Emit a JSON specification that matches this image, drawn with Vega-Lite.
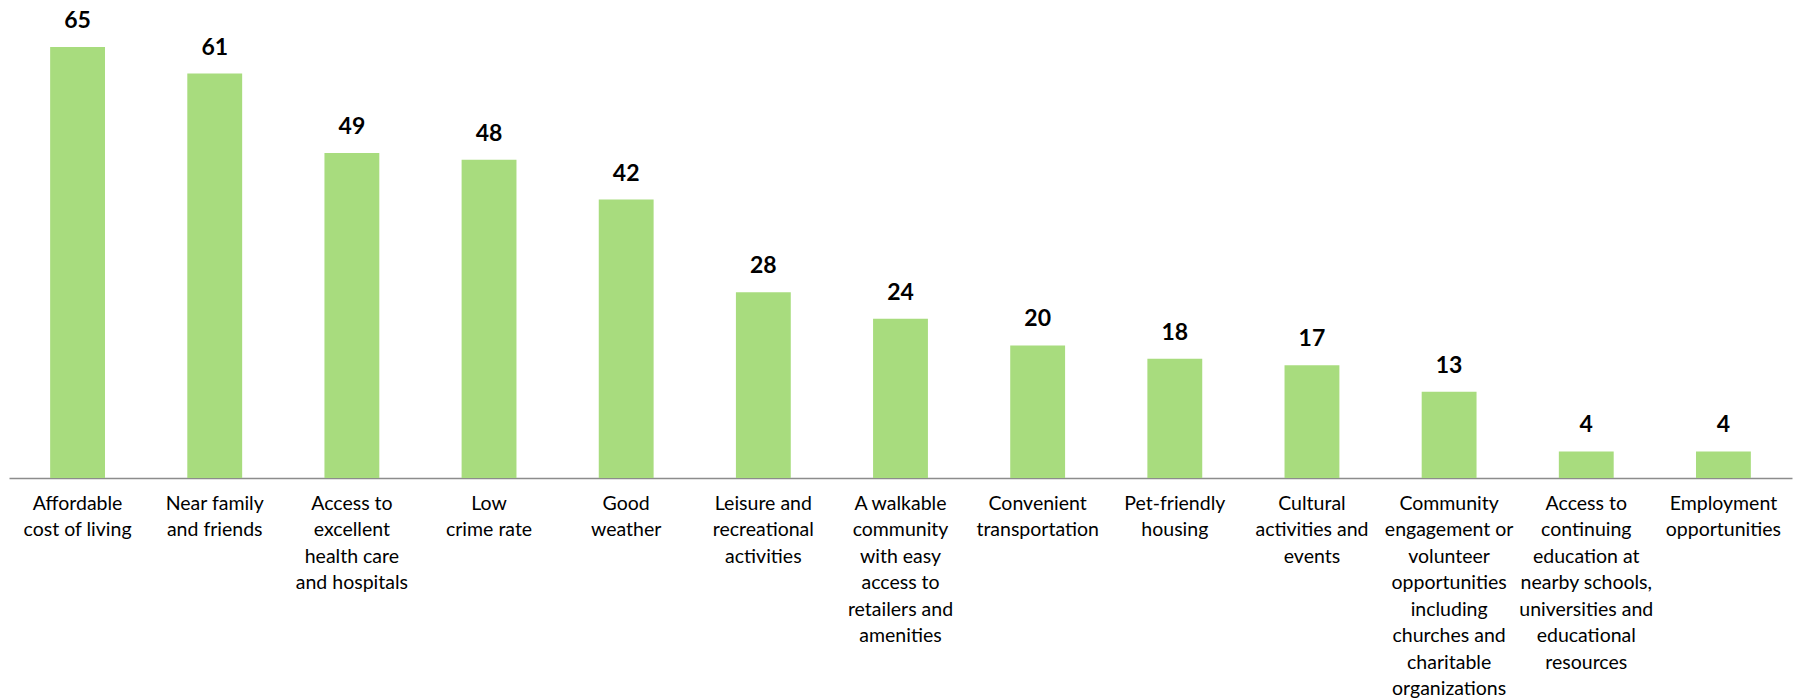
{
  "$schema": "https://vega.github.io/schema/vega-lite/v6.json",
  "autosize": {"type": "none"},
  "padding": {"left": 9, "top": 47, "right": 2, "bottom": 220},
  "width": 1783,
  "height": 431,
  "background": "white",
  "data": {"values": [
    {"reason": "Affordable|cost of living", "pct": 65},
    {"reason": "Near family|and friends", "pct": 61},
    {"reason": "Access to|excellent|health care|and hospitals", "pct": 49},
    {"reason": "Low|crime rate", "pct": 48},
    {"reason": "Good|weather", "pct": 42},
    {"reason": "Leisure and|recreational|activities", "pct": 28},
    {"reason": "A walkable|community|with easy|access to|retailers and|amenities", "pct": 24},
    {"reason": "Convenient|transportation", "pct": 20},
    {"reason": "Pet-friendly|housing", "pct": 18},
    {"reason": "Cultural|activities and|events", "pct": 17},
    {"reason": "Community|engagement or|volunteer|opportunities|including|churches and|charitable|organizations", "pct": 13},
    {"reason": "Access to|continuing|education at|nearby schools,|universities and|educational|resources", "pct": 4},
    {"reason": "Employment|opportunities", "pct": 4}
  ]},
  "encoding": {
    "x": {
      "field": "reason", "type": "nominal", "sort": null,
      "scale": {"paddingInner": 0.6, "paddingOuter": 0.3},
      "axis": {
        "title": null, "labelAngle": 0, "ticks": false,
        "labelExpr": "split(datum.label, '|')",
        "labelFont": "Lato", "labelFontSize": 19.5, "labelColor": "#000000",
        "labelLineHeight": 26.5, "labelPadding": 16, "labelLimit": 0,
        "labelBaseline": "top",
        "domainColor": "#8c8c8c", "domainWidth": 1.5
      }
    },
    "y": {
      "field": "pct", "type": "quantitative",
      "scale": {"domain": [0, 65], "nice": false},
      "axis": null
    }
  },
  "layer": [
    {"mark": {"type": "bar", "color": "#A8DC7E"}},
    {
      "mark": {"type": "text", "baseline": "alphabetic", "dy": -19, "font": "Lato", "fontWeight": "bold", "fontSize": 23, "color": "#000000"},
      "encoding": {"text": {"field": "pct", "type": "quantitative"}}
    }
  ],
  "config": {"view": {"stroke": null}}
}
